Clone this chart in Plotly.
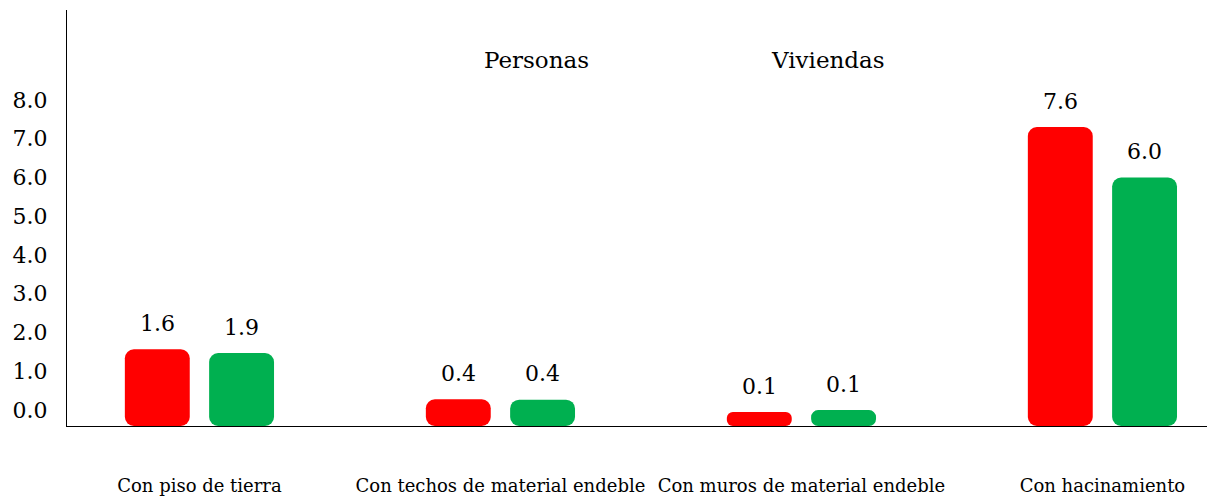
import plotly.graph_objects as go

categorias = ["Con piso de tierra", "Con techos de material endeble",
              "Con muros de material endeble", "Con hacinamiento"]
series = ["Personas", "Viviendas"]

# bar tops as they appear in the picture, and the printed values
personas = [1.57, 0.28, -0.05, 7.3]
viviendas = [1.47, 0.27, 0.0, 6.0]
personas_txt = ["1.6", "0.4", "0.1", "7.6"]
viviendas_txt = ["1.9", "0.4", "0.1", "6.0"]

y_ticks = [0, 1, 2, 3, 4, 5, 6, 7, 8]

BASE = -0.41
ROJO = "#FF0000"
VERDE = "#00B050"
FUENTE = "DejaVu Serif"

fig = go.Figure()
for nombre, valores, color in [(series[0], personas, ROJO), (series[1], viviendas, VERDE)]:
    fig.add_trace(go.Bar(
        x=categorias,
        y=[v - BASE for v in valores],
        base=BASE,
        name=nombre,
        marker={"color": color, "cornerradius": 9, "line": {"width": 0}},
        hoverinfo="skip",
    ))

# value labels above the bars
offset = 0.1385
anots = []
for i, cat in enumerate(categorias):
    for dx, valores, textos in [(-offset, personas, personas_txt), (offset, viviendas, viviendas_txt)]:
        anots.append(dict(
            x=i + dx, y=valores[i], xref="x", yref="y",
            text=textos[i], showarrow=False, yshift=26,
            xanchor="center", yanchor="middle",
            font={"size": 22},
        ))

# legend as plain text
for nombre, px in [(series[0], 536), (series[1], 828)]:
    anots.append(dict(
        x=(px - 67) / 1148, y=(426 - 60) / 416, xref="paper", yref="paper",
        xanchor="center", yanchor="middle",
        text=nombre, showarrow=False, font={"size": 23},
    ))

fig.update_layout(
    width=1207, height=491,
    margin={"l": 59, "r": 0, "t": 2, "b": 73},
    paper_bgcolor="white", plot_bgcolor="white",
    showlegend=False,
    barmode="group", bargap=0.44, bargroupgap=0.23,
    font={"family": FUENTE, "color": "black"},
    xaxis={
        "type": "category",
        "range": [-0.44, 3.374],
        "automargin": False,
        "showline": True, "linecolor": "black", "linewidth": 1,
        "showgrid": False, "ticks": "",
        "tickfont": {"size": 18},
        "ticklabelstandoff": 43,
    },
    yaxis={
        "range": [BASE, 10.32],
        "automargin": False,
        "tickvals": y_ticks,
        "tickformat": ".1f",
        "showline": True, "linecolor": "black", "linewidth": 1,
        "showgrid": False, "zeroline": False, "ticks": "",
        "tickfont": {"size": 22},
        "ticklabelstandoff": 14,
    },
    annotations=anots,
)

fig.write_html("out.html")
